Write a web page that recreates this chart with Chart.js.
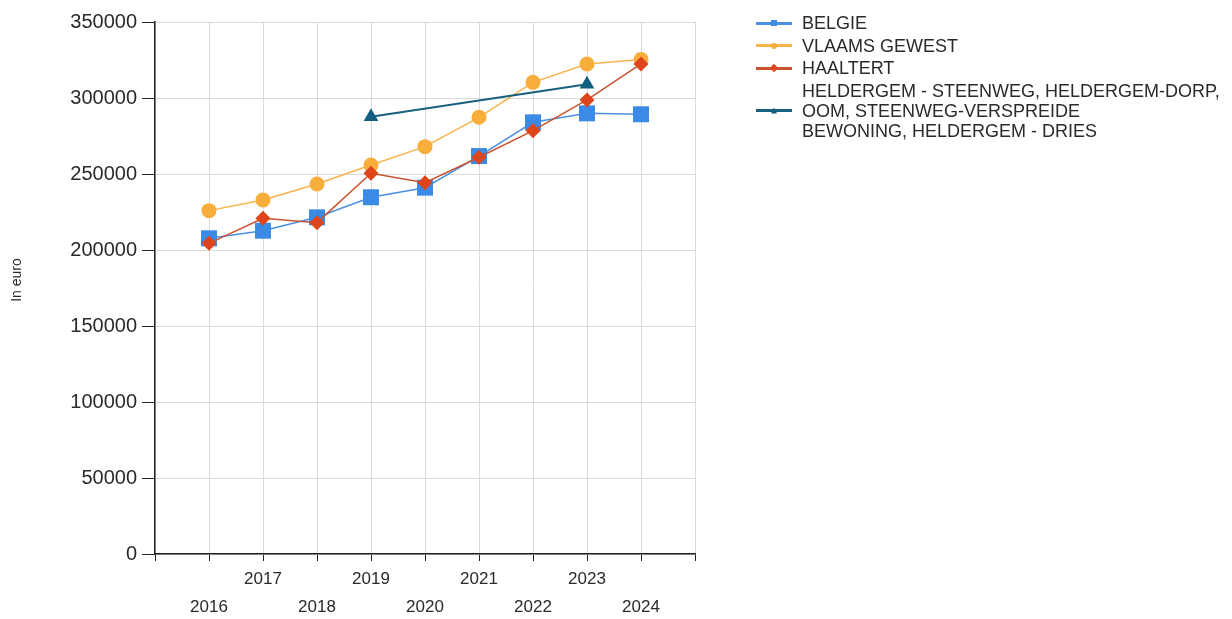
<!DOCTYPE html>
<html>
<head>
<meta charset="utf-8">
<script src="https://cdn.jsdelivr.net/npm/chart.js@4.4.1/dist/chart.umd.min.js"></script>
<style>
  html, body { margin: 0; padding: 0; background: #fff; }
  #wrap { position: relative; width: 1232px; height: 619px; }
  #chart { position: absolute; left: 0; top: 0; }
  #legend { position: absolute; left: 756px; top: 13px; font-family: "Liberation Sans", Arial, sans-serif;
            font-size: 18px; color: #2a2a2a; }
  .item { display: flex; align-items: center; line-height: 20px; margin-bottom: 2.5px; }
  .sw { position: relative; width: 36px; height: 20px; margin-right: 10px; flex: none; }
  .sw .ln { position: absolute; left: 0; right: 0; top: 8.5px; height: 3px; }
  .sw .mk { position: absolute; left: 15px; top: 7px; width: 6px; height: 6px; }
</style>
</head>
<body>
<div id="wrap">
  <canvas id="chart" width="1232" height="619"></canvas>
  <div id="legend"></div>
</div>
<script>
const years = [2016, 2017, 2018, 2019, 2020, 2021, 2022, 2023, 2024];

const belgie = [207700, 212700, 221500, 234700, 241000, 261800, 284000, 289900, 289300];
const vlaamsGewest = [225900, 232900, 243400, 255900, 268000, 287300, 310300, 322400, 325400];
const haaltert = [204400, 220900, 218000, 250500, 244300, 261000, 278500, 298700, 322400];
const heldergem = [null, null, null, 287700, null, null, null, 309000, null];

const seriesNames = [
    ['BELGIE'],
    ['VLAAMS GEWEST'],
    ['HAALTERT'],
    ['HELDERGEM - STEENWEG, HELDERGEM-DORP,', 'OOM, STEENWEG-VERSPREIDE', 'BEWONING, HELDERGEM - DRIES']
];

const yAxisTitle = 'In euro';

const toPoints = (vals) => years.map((yr, i) => ({ x: yr, y: vals[i] }));

const series = [
    { values: belgie, line: '#4a8fe2', fill: '#3b8ae6', style: 'rect', radius: 11.3, width: 1.5, order: 1, mk: 'sq' },
    { values: vlaamsGewest, line: '#f8b34a', fill: '#f9ae3b', style: 'circle', radius: 7.5, width: 1.5, order: 3, mk: 'ci' },
    { values: haaltert, line: '#c9532f', fill: '#df451b', style: 'rectRot', radius: 7.5, width: 1.5, order: 0, mk: 'di' },
    { values: heldergem, line: '#17617f', fill: '#135f80', style: 'triangle', radius: 8.5, width: 2, order: 2, mk: 'tr' }
];

const datasets = series.map((s, i) => ({
    label: seriesNames[i].join(' '),
    data: toPoints(s.values),
    borderColor: s.line,
    backgroundColor: s.fill,
    pointBackgroundColor: s.fill,
    pointBorderColor: s.fill,
    pointBorderWidth: 0,
    pointStyle: s.style,
    pointRadius: s.radius,
    borderWidth: s.width,
    spanGaps: true,
    tension: 0,
    order: s.order
}));

const txt = '#2a2a2a';

// y axis title, drawn a bit above the axis middle like the original
const yTitlePlugin = {
    id: 'yTitle',
    afterDraw(chart) {
        const ctx = chart.ctx;
        ctx.save();
        ctx.translate(17, 280);
        ctx.rotate(-Math.PI / 2);
        ctx.font = '14px "Liberation Sans"';
        ctx.fillStyle = txt;
        ctx.textAlign = 'center';
        ctx.textBaseline = 'middle';
        ctx.fillText(yAxisTitle, 0, 0);
        ctx.restore();
    }
};

new Chart(document.getElementById('chart'), {
    type: 'line',
    data: { datasets: datasets },
    plugins: [yTitlePlugin],
    options: {
        responsive: false,
        animation: false,
        events: [],
        layout: { padding: { left: 0, top: 22, right: 537, bottom: 0 } },
        plugins: { legend: { display: false }, tooltip: { enabled: false } },
        scales: {
            x: {
                type: 'linear',
                min: 2015,
                max: 2025,
                afterFit: (scale) => { scale.height = 65; },
                ticks: {
                    stepSize: 1,
                    autoSkip: false,
                    maxRotation: 0,
                    padding: 4,
                    color: txt,
                    font: { family: 'Liberation Sans', size: 17, lineHeight: '28px' },
                    callback: (v) => {
                        if (v < 2016 || v > 2024) return '';
                        return (v % 2 === 1) ? [String(v)] : ['', String(v)];
                    }
                },
                grid: { color: '#d9d9d9', lineWidth: 1, tickColor: '#222', tickLength: 7 },
                border: { color: '#222', width: 1.5 }
            },
            y: {
                min: 0,
                max: 350000,
                afterFit: (scale) => { scale.width = 155; },
                ticks: {
                    stepSize: 50000,
                    padding: 5,
                    color: txt,
                    font: { family: 'Liberation Sans', size: 20 },
                    callback: (v) => String(v)
                },
                grid: { color: '#d9d9d9', lineWidth: 1, tickColor: '#222', tickLength: 13 },
                border: { color: '#222', width: 1.5 }
            }
        }
    }
});

// html legend, one entry per series
const legend = document.getElementById('legend');
series.forEach((s, i) => {
    const item = document.createElement('div');
    item.className = 'item';
    const sw = document.createElement('span');
    sw.className = 'sw';
    const ln = document.createElement('i');
    ln.className = 'ln';
    ln.style.background = s.line;
    const mk = document.createElement('i');
    mk.className = 'mk';
    mk.style.background = s.fill;
    if (s.mk === 'ci') mk.style.borderRadius = '50%';
    if (s.mk === 'di') mk.style.transform = 'rotate(45deg)';
    if (s.mk === 'tr') mk.style.clipPath = 'polygon(50% 0, 100% 100%, 0 100%)';
    sw.appendChild(ln);
    sw.appendChild(mk);
    const t = document.createElement('span');
    t.innerHTML = seriesNames[i].map(l => l.replace(/&/g, '&amp;')).join('<br>');
    item.appendChild(sw);
    item.appendChild(t);
    legend.appendChild(item);
});
</script>
</body>
</html>
